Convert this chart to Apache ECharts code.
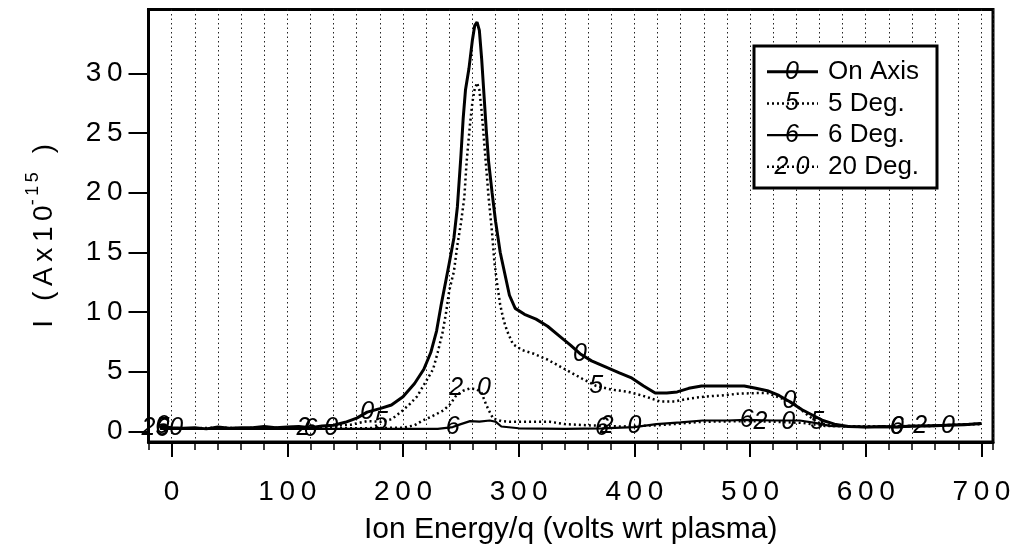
<!DOCTYPE html>
<html><head><meta charset="utf-8">
<script src="https://cdn.jsdelivr.net/npm/echarts@6/dist/echarts.min.js"></script>
<style>html,body{margin:0;padding:0;background:#fff}#c{width:1016px;height:550px}</style>
</head><body><div id="c"></div>
<script>
const FONT = '"Liberation Sans", Arial, Helvetica, sans-serif';

const seriesNames = ['On Axis', '5 Deg.', '6 Deg.', '20 Deg.'];
const markerChars = ['0', '5', '6', '2 0'];
const markerCharsPlot = ['0', '5', '6', '2  0'];

const onAxis = [[-10,0.3],[-8,0.4],[0,0.3],[10,0.25],[20,0.3],[30,0.2],[40,0.35],[50,0.25],[60,0.3],[70,0.3],[80,0.4],[90,0.3],[100,0.35],[110,0.4],[120,0.3],[130,0.45],[140,0.5],[150,0.75],[160,1.1],[169,1.6],[180,1.9],[190,2.2],[200,2.9],[210,4.0],[218,5.2],[224,6.6],[229,8.4],[233,10.6],[237,12.6],[240,14.1],[244,16.2],[247,18.8],[250,23.0],[252,26.2],[254,28.6],[257,30.4],[260,32.8],[262,34.0],[264,34.3],[266,33.6],[268,31.2],[270,28.2],[272,25.2],[274,22.6],[277,20.0],[280,17.6],[284,15.0],[288,13.2],[292,11.4],[297,10.3],[305,9.8],[315,9.4],[325,8.8],[335,8.0],[345,7.2],[353,6.5],[363,5.9],[375,5.4],[387,4.9],[397,4.5],[408,3.8],[418,3.2],[428,3.2],[437,3.3],[447,3.6],[458,3.8],[470,3.8],[485,3.8],[495,3.8],[505,3.6],[515,3.4],[525,3.0],[534,2.5],[545,1.8],[555,1.3],[563,0.9],[573,0.6],[585,0.4],[600,0.35],[615,0.4],[627,0.35],[640,0.45],[655,0.45],[670,0.5],[685,0.55],[700,0.65]];
const fiveDeg = [[-10,0.3],[-8,0.3],[0,0.25],[20,0.25],[40,0.3],[60,0.25],[80,0.3],[100,0.3],[120,0.3],[140,0.45],[155,0.55],[169,0.85],[181,0.8],[190,1.0],[198,1.6],[205,2.2],[212,2.9],[220,4.2],[226,5.2],[230,6.6],[234,8.2],[237,9.8],[240,11.8],[244,13.4],[247,15.6],[250,17.4],[253,19.6],[255,22.6],[258,25.8],[260,27.6],[262,28.7],[264,29.2],[266,28.6],[268,26.8],[270,24.4],[272,22.0],[274,19.6],[277,16.6],[279,14.2],[281,12.6],[284,10.6],[287,9.3],[290,8.4],[295,7.3],[303,6.8],[313,6.5],[325,6.0],[340,5.2],[355,4.4],[367,3.8],[380,3.5],[395,3.3],[410,2.9],[422,2.5],[435,2.5],[445,2.7],[460,2.9],[475,3.0],[490,3.15],[505,3.2],[515,3.2],[526,2.8],[537,2.4],[548,1.5],[558,0.75],[570,0.45],[590,0.4],[620,0.4],[660,0.5],[700,0.6]];
const sixDeg = [[-10,0.2],[-8,0.2],[0,0.2],[40,0.2],[80,0.2],[120,0.2],[160,0.2],[200,0.2],[230,0.2],[243,0.35],[250,0.6],[258,0.85],[266,0.8],[275,0.9],[280,0.8],[285,0.4],[300,0.25],[340,0.2],[372,0.25],[400,0.35],[419,0.6],[440,0.75],[459,0.9],[480,0.9],[497,0.95],[520,0.9],[543,0.9],[556,0.7],[569,0.45],[600,0.35],[627,0.35],[650,0.45],[680,0.55],[700,0.65]];
const twentyDeg = [[-10,0.3],[-8,0.3],[0,0.25],[40,0.25],[80,0.25],[126,0.25],[160,0.25],[200,0.3],[210,0.5],[217,0.9],[226,1.3],[235,1.75],[241,2.3],[246,3.0],[252,3.4],[258,3.6],[264,3.5],[268,3.2],[270,2.7],[272,2.2],[275,1.6],[278,1.06],[285,0.85],[292,0.8],[327,0.8],[340,0.6],[360,0.5],[388,0.4],[420,0.5],[460,0.8],[500,0.85],[521,0.8],[545,0.7],[565,0.45],[600,0.4],[659,0.45],[700,0.65]];

const onAxisMarkers = [-8, 169, 353, 534, 627];
const fiveDegMarkers = [-8, 181, 367, 558];
const sixDegMarkers = [-8, 120, 243, 372, 497, 627];
const twentyDegMarkers = [-8, 126, 258, 388, 521, 659];

const xMajorTicks = [0, 100, 200, 300, 400, 500, 600, 700];
const yTicks = [0, 5, 10, 15, 20, 25, 30];

const dataSets = [onAxis, fiveDeg, sixDeg, twentyDeg];
const markerSets = [onAxisMarkers, fiveDegMarkers, sixDegMarkers, twentyDegMarkers];
const lineStyles = [
  {width: 3, type: 'solid'},
  {width: 2.5, type: [2, 3]},
  {width: 2.2, type: 'solid'},
  {width: 2.5, type: [2, 3]}
];

const spaced = s => String(s).split('').join('\u2009');

const series = [];
dataSets.forEach((d, i) => {
  series.push({
    name: seriesNames[i], type: 'line', data: d, symbol: 'none', showSymbol: false,
    lineStyle: {color: '#000', width: lineStyles[i].width, type: lineStyles[i].type, cap: 'butt'},
    z: 3, silent: true
  });
});
dataSets.forEach((d, i) => {
  series.push({
    name: seriesNames[i] + ' markers', type: 'scatter',
    data: d.filter(p => markerSets[i].includes(p[0])),
    symbol: 'circle', symbolSize: 0.5, itemStyle: {color: '#000', opacity: 1},
    label: {show: true, position: 'inside', formatter: markerCharsPlot[i], color: '#000', opacity: 1,
      fontStyle: 'italic', fontSize: 25, fontFamily: FONT},
    emphasis: {disabled: true},
    z: 4, silent: true
  });
});

// legend built as graphic elements
const LX = 754, LY = 46, LW = 183, LH = 142, ROW0 = 71.7, ROWH = 31.7;
const legendEls = [{type: 'rect', shape: {x: LX, y: LY, width: LW, height: LH},
  style: {fill: '#fff', stroke: '#000', lineWidth: 3}, z: 100}];
seriesNames.forEach((n, i) => {
  const cy = ROW0 + i * ROWH;
  legendEls.push({type: 'line', shape: {x1: 767, y1: cy, x2: 818, y2: cy},
    style: {stroke: '#000', lineWidth: lineStyles[i].width,
      lineDash: Array.isArray(lineStyles[i].type) ? lineStyles[i].type : null}, z: 101});
  legendEls.push({type: 'text', x: 792, y: cy, style: {text: markerChars[i], fill: '#000',
    font: 'italic 25px ' + FONT, align: 'center', verticalAlign: 'middle'}, z: 102});
  legendEls.push({type: 'text', x: 828, y: cy, style: {text: n, fill: '#000',
    font: '26px ' + FONT, align: 'left', verticalAlign: 'middle'}, z: 102});
});

const chart = echarts.init(document.getElementById('c'), null, {renderer: 'canvas'});
chart.setOption({
  animation: false,
  backgroundColor: '#fff',
  textStyle: {fontFamily: FONT},
  grid: {left: 148.5, right: 23, top: 9.5, bottom: 106.7, show: true,
    borderColor: '#000', borderWidth: 3},
  xAxis: [
    {type: 'value', min: -20, max: 710, position: 'bottom',
      axisLine: {show: true, onZero: false, lineStyle: {color: '#000', width: 3}},
      axisTick: {show: true, customValues: xMajorTicks, length: 15, lineStyle: {color: '#000', width: 2}},
      axisLabel: {show: true, customValues: xMajorTicks, formatter: v => spaced(v),
        fontSize: 28, color: '#000', margin: 36, fontFamily: FONT},
      splitLine: {show: false},
      name: 'Ion Energy/q (volts wrt plasma)', nameLocation: 'middle', nameGap: 73,
      nameTextStyle: {fontSize: 30, color: '#000', fontFamily: FONT}
    },
    {type: 'value', min: -20, max: 710, interval: 20, position: 'bottom',
      axisLine: {show: false, onZero: false},
      axisTick: {show: true, length: 8, lineStyle: {color: '#000', width: 1.5}},
      axisLabel: {show: false},
      splitLine: {show: true, lineStyle: {color: '#222', width: 1, type: [1.5, 3]}}
    }
  ],
  yAxis: {type: 'value', min: -0.9, max: 35.35,
    axisLine: {show: true, onZero: false, lineStyle: {color: '#000', width: 3}},
    axisTick: {show: true, customValues: yTicks, length: 20, lineStyle: {color: '#000', width: 2}},
    axisLabel: {show: true, customValues: yTicks, formatter: v => spaced(v),
      fontSize: 28, color: '#000', margin: 26, fontFamily: FONT},
    splitLine: {show: false},
    name: '{a|I\u2009 \u2009(\u2009A\u2009x\u20091\u20090}{s|-\u20091\u20095}{a|\u2009 \u2009)}',
    nameLocation: 'middle', nameGap: 90,
    nameTextStyle: {color: '#000', fontFamily: FONT, padding: [0, 20, 0, 0],
      rich: {a: {fontSize: 28, lineHeight: 34, verticalAlign: 'bottom', fontFamily: FONT, color: '#000'},
             s: {fontSize: 18, lineHeight: 34, verticalAlign: 'top', fontFamily: FONT, color: '#000'}}}
  },
  graphic: legendEls,
  series: series
});
</script>
</body></html>
